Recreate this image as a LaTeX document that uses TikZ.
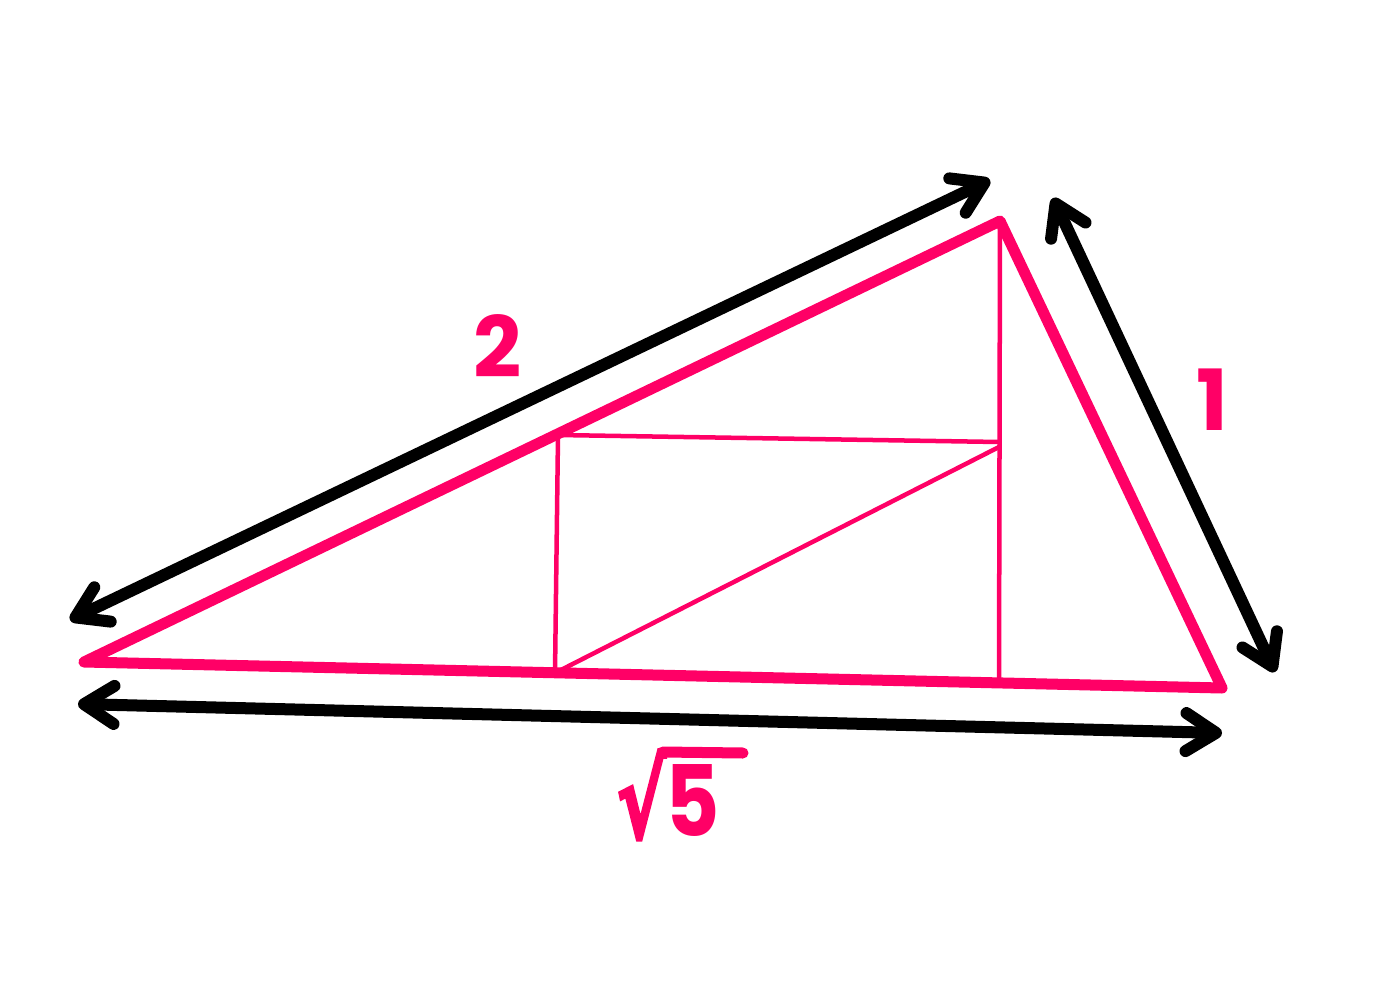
\documentclass[tikz,border=0pt]{standalone}
\usepackage{fontspec}
\setsansfont{Poppins}
\newfontfamily\dejavu[FakeBold=3]{DejaVu Sans}
\usetikzlibrary{arrows.meta}
\definecolor{hotpink}{RGB}{255,0,102}
\tikzset{
  barb/.tip={Straight Barb[length=0.3cm,width=0.38cm,round]},
  dimarrow/.style={draw=black, line width=0.12cm, line cap=round, barb-barb},
  thickpink/.style={draw=hotpink, line width=0.11cm, line join=round, line cap=round},
  thinpink/.style={draw=hotpink, line width=0.045cm},
  lbl/.style={text=hotpink, font=\sffamily\bfseries\fontsize{24}{24}\selectfont, inner sep=0pt},
  rootlbl/.style={text=hotpink, font=\dejavu\bfseries\fontsize{30}{30}\selectfont, inner sep=0pt, anchor=base west},
  rootbar/.style={draw=hotpink, line width=0.11cm, line cap=round}
}
\begin{document}
\begin{tikzpicture}[x=0.01cm,y=-0.01cm]
\useasboundingbox (0,0) rectangle (1400,988);
% triangle vertices
\coordinate (A) at (84,662);
\coordinate (B) at (1000,221);
\coordinate (C) at (1222,688);
% inner points
\coordinate (P) at (558,435);
\coordinate (Q) at (999,442);
\coordinate (R) at (555,673);
\coordinate (S) at (999,447);
\coordinate (T) at (999,683);
% arrow ends
\coordinate (a1) at (70,620);
\coordinate (a2) at (990,180);
\coordinate (b1) at (1053,198);
\coordinate (b2) at (1275,672);
\coordinate (c1) at (78,704);
\coordinate (c2) at (1222,733);
% thin inner lines
\draw[thinpink] (B) -- (T);
\draw[thinpink] (P) -- (Q);
\draw[thinpink] (P) -- (R);
\draw[thinpink] (R) -- (S);
% triangle
\draw[thickpink] (A) -- (B) -- (C) -- cycle;
% dimension arrows
\draw[dimarrow] (a1) -- (a2);
\draw[dimarrow] (b1) -- (b2);
\draw[dimarrow] (c1) -- (c2);
% labels
\node[lbl] (l2) at (498,346) {2};
\node[lbl] (l1) at (1212,400) {1};
\node[rootlbl] (root) at (616,838) {\scalebox{0.7}[1]{√}};
\node[lbl, font=\sffamily\bfseries\fontsize{28}{28}\selectfont] (l5) at (693,801) {\scalebox{0.85}[1]{5}};
\coordinate (barend) at (743,753);
\draw[rootbar] ([xshift=-0.04cm,yshift=-0.03cm]root.north east) -- (barend);
\end{tikzpicture}
\end{document}
